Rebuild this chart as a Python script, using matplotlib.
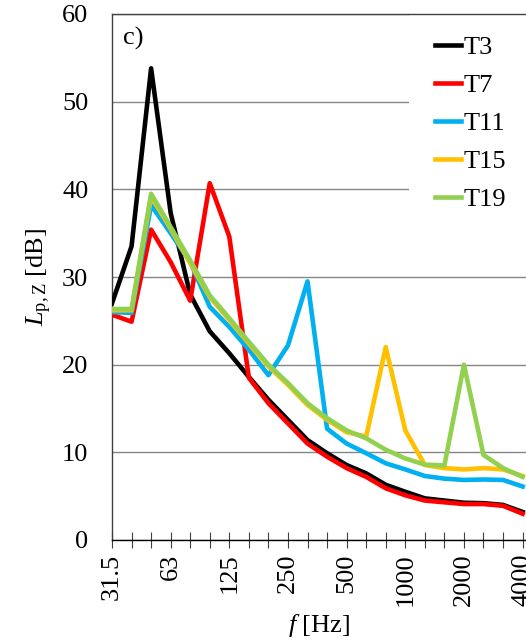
import numpy as np
import matplotlib.pyplot as plt
from matplotlib.patches import Rectangle

plt.rcParams['font.family'] = ['Liberation Serif', 'DejaVu Serif']
plt.rcParams['mathtext.fontset'] = 'custom'
plt.rcParams['mathtext.rm'] = 'Liberation Serif'
plt.rcParams['mathtext.it'] = 'Liberation Serif:italic'

# Third-octave band centre frequencies [Hz]
freqs = ['31.5', '40', '50', '63', '80', '100', '125', '160', '200', '250', '315',
         '400', '500', '630', '800', '1000', '1250', '1600', '2000', '2500', '3150', '4000']
shown_labels = ['31.5', '63', '125', '250', '500', '1000', '2000', '4000']

# Sound pressure level, Z-weighted [dB]
t3 = [27.0, 33.5, 53.8, 37.3, 28.0, 23.8, 21.3, 18.6, 16.0, 13.7, 11.4,
      9.9, 8.55, 7.6, 6.3, 5.5, 4.75, 4.5, 4.25, 4.2, 4.0, 3.2]
t7 = [25.7, 24.9, 35.4, 31.7, 27.3, 40.7, 34.6, 18.5, 15.6, 13.3, 11.0,
      9.5, 8.2, 7.2, 5.9, 5.1, 4.5, 4.3, 4.1, 4.1, 3.9, 3.0]
t11 = [26.0, 25.9, 38.2, 35.0, 31.7, 26.6, 24.3, 21.7, 18.8, 22.2, 29.5,
       12.7, 11.0, 9.9, 8.75, 8.05, 7.3, 7.0, 6.85, 6.9, 6.85, 6.1]
t15 = [26.2, 26.2, 39.2, 35.5, 31.6, 27.7, 25.1, 22.4, 19.8, 17.7, 15.4,
       13.7, 12.3, 11.8, 22.0, 12.5, 8.55, 8.2, 8.05, 8.2, 8.05, 7.3]
t19 = [26.35, 26.35, 39.5, 35.7, 31.9, 27.9, 25.3, 22.6, 20.0, 17.9, 15.6,
       13.9, 12.5, 11.6, 10.3, 9.3, 8.6, 8.5, 20.0, 9.7, 8.2, 7.2]

series = [('T3', t3, '#000000'), ('T7', t7, '#ff0000'), ('T11', t11, '#00b0f0'),
          ('T15', t15, '#ffc000'), ('T19', t19, '#92d050')]

fs = 19

fig = plt.figure(figsize=(5.26, 6.43), dpi=100)
ax = fig.add_axes([112 / 526, 1 - 540 / 643, 414 / 526, 526 / 643])

x = np.arange(len(freqs))
for name, vals, col in series:
    ax.plot(x, vals, color=col, lw=3.3, label=name, zorder=3)

ax.set_xlim(0, 21 + 3.4 / 19.55)
ax.set_ylim(0, 60)
ax.set_yticks(range(0, 61, 10))
ax.yaxis.grid(True, color='#858585', lw=1.0)
ax.set_axisbelow(True)

# white area behind the legend hides the gridlines there
ax.add_patch(Rectangle(((409 - 112) / 414, (540 - 215) / 526), 1, 0.4,
                       transform=ax.transAxes, facecolor='white', edgecolor='none',
                       zorder=1))

ax.set_xticks(x)
ax.set_xticklabels([f if f in shown_labels else '' for f in freqs], rotation=90)
ax.tick_params(axis='x', direction='inout', length=11.5, width=0.8, color='#404040',
               labelsize=fs, pad=4)
ax.tick_params(axis='y', length=0, labelsize=fs, pad=17)

ax.spines['right'].set_visible(False)
for s in ['left', 'top']:
    ax.spines[s].set_color('#404040')
    ax.spines[s].set_linewidth(1.0)
ax.spines['bottom'].set_color('#000000')
ax.spines['bottom'].set_linewidth(1.0)

ax.set_ylabel(r'$L_\mathrm{p,Z}$ [dB]', fontsize=fs, labelpad=6)
ax.set_xlabel(r'$f$ [Hz]', fontsize=fs, labelpad=4)

ax.text(0.027, 0.975, 'c)', transform=ax.transAxes, fontsize=fs, va='top', ha='left')

leg = ax.legend(loc='upper left', bbox_to_anchor=((432 - 112) / 414, 1 - 19 / 526),
                fontsize=fs, frameon=False, handlelength=1.0, handletextpad=0.1,
                labelspacing=0.55, borderpad=0.1, borderaxespad=0.0)
for h in leg.get_lines():
    h.set_linewidth(3.3)

fig.savefig('out.png', dpi=100)
